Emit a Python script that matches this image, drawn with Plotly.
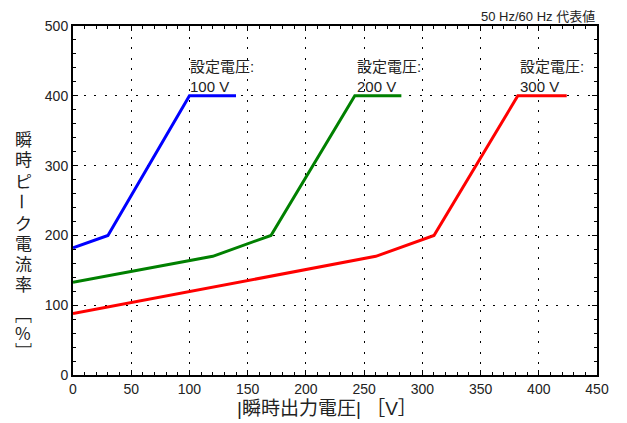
import plotly.graph_objects as go

# Data: |instantaneous output voltage| [V] vs instantaneous peak current ratio [%]
x_100 = [0, 30, 100, 140]
y_100 = [182, 200, 400, 400]
x_200 = [0, 120, 170, 242, 282]
y_200 = [133, 170, 200, 400, 400]
x_300 = [0, 260, 310, 382, 424]
y_300 = [88, 170, 200, 400, 400]

series_names = ["100 V", "200 V", "300 V"]
series_colors = ["#0000FF", "#008000", "#FF0000"]
label_x = [99, 242, 382]

x_ticks = [0, 50, 100, 150, 200, 250, 300, 350, 400, 450]
y_ticks = [0, 100, 200, 300, 400, 500]

FONT = "Liberation Sans, Arial, Noto Sans CJK JP, sans-serif"
CJK = "Noto Sans CJK JP, Liberation Sans, sans-serif"

# plot area in pixels
L, R, T, B = 73, 597, 26, 375
W, H = R - L, B - T


def px(x):
    return (x - L) / W


def py(y):
    return (B - y) / H


fig = go.Figure()
for xs, ys, c, n in zip([x_100, x_200, x_300], [y_100, y_200, y_300], series_colors, series_names):
    fig.add_trace(go.Scatter(x=xs, y=ys, mode="lines", line=dict(color=c, width=3),
                             name=n, showlegend=False, hoverinfo="skip"))

for lx, n in zip(label_x, series_names):
    fig.add_annotation(x=lx, y=400, xref="x", yref="y", text="設定電圧:<br>" + n,
                       showarrow=False, xanchor="left", yanchor="bottom", align="left",
                       font=dict(family=FONT, size=15, color="#222222"), yshift=-1)

fig.add_annotation(x=1, y=1, xref="paper", yref="paper", text="50 Hz/60 Hz 代表値",
                   showarrow=False, xanchor="right", yanchor="bottom", yshift=0,
                   font=dict(family=FONT, size=13, color="#222222"))

# vertical y-axis title (upright characters stacked)
ytitle_chars = ["瞬", "時", "ピ", "ー", "ク", "電", "流", "率", "﹇", "%", "﹈"]
ytitle_pos = [138, 158, 180, 201, 222, 242, 263, 283, 313, 332, 350]
ytitle_rot = [0, 0, 0, 90, 0, 0, 0, 0, 0, 0, 0]
for ch, yy, rot in zip(ytitle_chars, ytitle_pos, ytitle_rot):
    fig.add_annotation(x=px(23), y=py(yy), xref="paper", yref="paper", text=ch,
                       showarrow=False, xanchor="center", yanchor="middle", textangle=rot,
                       font=dict(family=CJK, size=17, color="#222222"))

fig.add_annotation(x=px(327), y=py(408), xref="paper", yref="paper",
                   text="|瞬時出力電圧| ［V］", showarrow=False, xanchor="center", yanchor="middle",
                   font=dict(family=FONT, size=19, color="#222222"))

axis_common = dict(
    showline=True, linecolor="black", linewidth=2, mirror="ticks",
    ticks="inside", ticklen=5, tickcolor="black", tickwidth=1,
    showgrid=True, gridcolor="black", gridwidth=1, griddash="2px,8.5px",
    zeroline=False, tickfont=dict(family=FONT, size=14, color="#222222"),
)

fig.update_xaxes(range=[0, 450], tickvals=x_ticks, ticktext=[str(v) for v in x_ticks],
                 minor=dict(dtick=10, ticks="inside", ticklen=3, tickcolor="black", showgrid=False),
                 **axis_common)
fig.update_yaxes(range=[0, 500], tickvals=y_ticks, ticktext=[str(v) for v in y_ticks],
                 minor=dict(dtick=20, ticks="inside", ticklen=3, tickcolor="black", showgrid=False),
                 **axis_common)

fig.update_layout(
    width=627, height=423,
    margin=dict(l=L, r=627 - R, t=T, b=423 - B),
    plot_bgcolor="white", paper_bgcolor="white",
    font=dict(family=FONT),
)

fig.write_html("out.html", config={"displayModeBar": False},
               post_script="document.body.style.margin='0';")
